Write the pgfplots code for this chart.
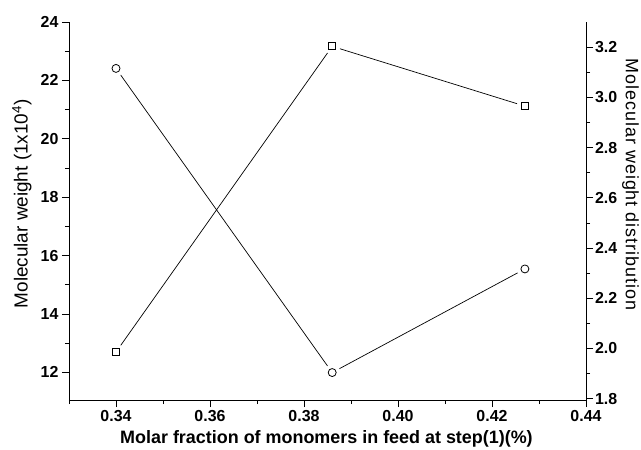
\documentclass[border=0pt]{standalone}
\usepackage{fontspec}
\setmainfont{Liberation Sans}
\usepackage{pgfplots}
\usepackage{pgfplotstable}
\pgfplotsset{compat=1.18}

% Molecular weight (1x10^4) against molar fraction
\pgfplotstableread{
x      mw
0.340  22.41
0.386  11.99
0.427  15.54
}\mwdata
% Molecular weight distribution against molar fraction
\pgfplotstableread{
x      pdi
0.340  1.986
0.386  3.203
0.427  2.965
}\pdidata

\begin{document}
\begin{tikzpicture}
\path[use as bounding box] (-69bp,-50bp) rectangle (572bp,400bp);
\pgfplotsset{
  common/.style={
    scale only axis, width=517bp, height=378bp,
    xmin=0.33, xmax=0.44,
    tick align=outside,
    major tick length=7bp, minor tick length=4bp,
    tick style={black, line width=0.7bp},
    axis line style={-, black, line width=0.9bp},
    /pgf/number format/assume math mode=true,
    ticklabel style={font=\bfseries\fontsize{16}{16}\selectfont},
    label style={font=\fontsize{19}{19}\selectfont},
  },
  % white disc that opens a small gap between each line and its marker
  halo/.style={white, only marks, mark=*, mark size=8bp},
}
\begin{axis}[common,
  axis x line*=bottom, axis y line*=left,
  ymin=11.05, ymax=24,
  xtick={0.34,0.36,0.38,0.40,0.42,0.44},
  minor xtick={0.33,0.35,0.37,0.39,0.41,0.43},
  xticklabel style={/pgf/number format/.cd, fixed, fixed zerofill, precision=2},
  ytick={12,14,16,18,20,22,24},
  minor ytick={13,15,17,19,21,23},
  xlabel={\bfseries\fontsize{18}{18}\selectfont Molar fraction of monomers in feed at step(1)(\%)},
  xlabel style={at={(axis description cs:0.498,-0.103)}, anchor=center},
  ylabel={Molecular weight (1x10\textsuperscript{4})},
  ylabel style={at={(axis description cs:-0.091,0.519)}, anchor=center},
]
\addplot[black, line width=0.7bp, mark=none] table[x=x, y=mw] {\mwdata};
\addplot[halo] table[x=x, y=mw] {\mwdata};
\addplot[black, only marks, mark=o, mark size=4bp,
  mark options={line width=0.8bp, fill=white}] table[x=x, y=mw] {\mwdata};
\end{axis}
\begin{axis}[common,
  axis x line=none, axis y line*=right,
  ymin=1.795, ymax=3.3,
  ytick={1.8,2.0,2.2,2.4,2.6,2.8,3.0,3.2},
  minor ytick={1.9,2.1,2.3,2.5,2.7,2.9,3.1},
  yticklabel style={xshift=-1.5bp,
    /pgf/number format/.cd, fixed, fixed zerofill, precision=1},
  ylabel={\fontsize{18}{18}\selectfont\addfontfeature{LetterSpace=5.5}Molecular weight distribution},
  ylabel style={at={(axis description cs:1.086,0.570)}, anchor=center, rotate=180,
    inner sep=0pt},
]
\addplot[black, line width=0.7bp, mark=none] table[x=x, y=pdi] {\pdidata};
\addplot[halo] table[x=x, y=pdi] {\pdidata};
\addplot[black, only marks, mark=square, mark size=3.5bp,
  mark options={line width=0.8bp, fill=white}] table[x=x, y=pdi] {\pdidata};
\end{axis}
\end{tikzpicture}
\end{document}
